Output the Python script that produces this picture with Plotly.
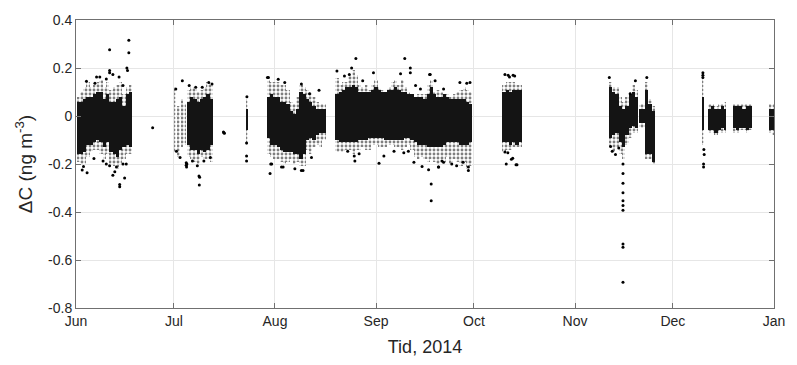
import pandas as pd
import plotly.graph_objects as go

# ---- data (days after 2014-06-01) ----
bin_day = ([d + 0.7 for d in range(17)] +            # June block
           [30.5, 31.5, 32.6, 33.4] +                  # early July sparse columns
           [34.5, 35.5, 36.5, 37.5, 38.5, 39.5, 40.5, 41.5] +
           [52.4] +
           [59, 60, 61, 62, 63, 64, 65, 66, 67, 68, 69, 70, 71, 72, 73, 74, 75, 76] +
           list(range(80, 122)) +
           [131.2, 132.2, 133.2, 134.2, 135.2, 136.2] +
           [163.9, 164.9, 165.9, 166.9, 167.9, 168.9, 169.9, 170.9, 171.9, 173.0, 174.0, 175.0, 176.0, 177.0] +
           [192.3] +
           [194.2, 195.2, 196.2, 197.2, 198.2, 199.0] +
           [201.8, 202.8, 203.8, 204.8, 205.8, 206.8] +
           [212.9, 213.6])
bin_width = ([1.0] * 17 + [0.6] * 4 + [1.0] * 8 + [0.7] + [1.0] * 18 + [1.0] * 42 +
             [1.0] * 6 + [1.0] * 14 + [0.7] + [1.0] * 5 + [0.6] + [1.0] * 6 + [0.8, 0.7])

core_high = ([0.06, 0.06, 0.07, 0.08, 0.08, 0.09, 0.10, 0.10, 0.07, 0.09, 0.06, 0.06, 0.07, 0.08, 0.04, 0.09, 0.10] +
             [None, None, None, None] +
             [0.06, 0.08, 0.07, 0.06, 0.07, 0.08, 0.09, 0.07] +
             [0.03] +
             [0.08, 0.09, 0.08, 0.08, 0.06, 0.06, 0.05, 0.02, 0.01, 0.03, 0.10, 0.09, 0.07, 0.06, 0.04, 0.03, 0.03, 0.03] +
             [0.09, 0.10, 0.11, 0.12, 0.12, 0.13, 0.12, 0.10, 0.10, 0.10, 0.10, 0.11, 0.12, 0.11, 0.10, 0.10, 0.11, 0.11,
              0.12, 0.11, 0.10, 0.10, 0.09, 0.09, 0.08, 0.08, 0.08, 0.07, 0.09, 0.12, 0.09, 0.08, 0.08, 0.09, 0.08, 0.07,
              0.07, 0.07, 0.07, 0.07, 0.06, 0.05] +
             [0.10, 0.11, 0.10, 0.11, 0.11, 0.11] +
             [0.12, 0.10, 0.09, 0.04, 0.03, 0.04, 0.09, 0.10, 0.08, 0.03, 0.03, 0.11, 0.05, 0.02] +
             [0.08] +
             [0.03, 0.04, 0.03, 0.03, 0.04, 0.03] +
             [0.04, 0.04, 0.04, 0.03, 0.04, 0.04] +
             [0.03, 0.03])
core_low = ([-0.16, -0.16, -0.15, -0.12, -0.12, -0.11, -0.10, -0.11, -0.13, -0.11, -0.15, -0.16, -0.17, -0.14, -0.13, -0.12, -0.13] +
            [None, None, None, None] +
            [-0.12, -0.14, -0.14, -0.16, -0.14, -0.15, -0.14, -0.12] +
            [-0.06] +
            [-0.09, -0.12, -0.12, -0.13, -0.14, -0.15, -0.15, -0.15, -0.16, -0.16, -0.18, -0.16, -0.10, -0.09, -0.10, -0.08, -0.07, -0.07] +
            [-0.10, -0.11, -0.11, -0.11, -0.11, -0.11, -0.11, -0.10, -0.10, -0.10, -0.09, -0.09, -0.09, -0.09, -0.09, -0.10,
             -0.10, -0.10, -0.10, -0.10, -0.10, -0.09, -0.09, -0.10, -0.11, -0.12, -0.12, -0.12, -0.13, -0.13, -0.13, -0.13,
             -0.13, -0.12, -0.11, -0.11, -0.11, -0.11, -0.12, -0.12, -0.12, -0.11] +
            [-0.11, -0.11, -0.12, -0.11, -0.12, -0.11] +
            [-0.09, -0.08, -0.07, -0.11, -0.13, -0.08, -0.05, -0.04, -0.05, -0.03, -0.03, -0.16, -0.16, -0.19] +
            [-0.06] +
            [-0.06, -0.06, -0.07, -0.06, -0.05, -0.06] +
            [-0.05, -0.06, -0.05, -0.05, -0.06, -0.05] +
            [-0.06, -0.06])
spread_high = ([0.08, 0.10, 0.12, 0.14, 0.12, 0.13, 0.14, 0.15, 0.12, 0.14, 0.11, 0.12, 0.13, 0.14, 0.09, 0.12, 0.13] +
               [0.12, 0.04, 0.07, 0.05] +
               [0.11, 0.12, 0.12, 0.10, 0.11, 0.12, 0.14, 0.13] +
               [0.07] +
               [0.15, 0.14, 0.14, 0.14, 0.13, 0.13, 0.11, 0.06, 0.05, 0.08, 0.13, 0.12, 0.11, 0.10, 0.08, 0.06, 0.05, 0.05] +
               [0.16, 0.13, 0.14, 0.14, 0.17, 0.19, 0.17, 0.13, 0.12, 0.13, 0.11, 0.13, 0.15, 0.12, 0.11, 0.10, 0.12, 0.14,
                0.15, 0.13, 0.15, 0.12, 0.10, 0.09, 0.08, 0.09, 0.09, 0.09, 0.13, 0.15, 0.10, 0.11, 0.10, 0.09, 0.09, 0.08,
                0.09, 0.10, 0.11, 0.12, 0.11, 0.10] +
               [0.13, 0.14, 0.14, 0.14, 0.13, 0.13] +
               [0.14, 0.12, 0.12, 0.08, 0.06, 0.08, 0.10, 0.13, 0.11, 0.05, 0.05, 0.14, 0.07, 0.04] +
               [0.17] +
               [0.05, 0.05, 0.04, 0.05, 0.05, 0.06] +
               [0.05, 0.05, 0.05, 0.05, 0.05, 0.05] +
               [0.05, 0.05])
spread_low = ([-0.19, -0.20, -0.20, -0.17, -0.15, -0.14, -0.14, -0.16, -0.18, -0.16, -0.20, -0.21, -0.22, -0.20, -0.18, -0.16, -0.16] +
              [-0.15, -0.17, -0.13, -0.12] +
              [-0.17, -0.18, -0.19, -0.20, -0.17, -0.18, -0.18, -0.19] +
              [-0.12] +
              [-0.16, -0.17, -0.18, -0.18, -0.19, -0.20, -0.19, -0.18, -0.20, -0.19, -0.21, -0.21, -0.14, -0.16, -0.13, -0.12, -0.13, -0.10] +
              [-0.15, -0.15, -0.15, -0.14, -0.14, -0.16, -0.14, -0.14, -0.13, -0.14, -0.14, -0.12, -0.12, -0.13, -0.13, -0.13,
               -0.12, -0.12, -0.13, -0.13, -0.14, -0.13, -0.12, -0.14, -0.17, -0.18, -0.17, -0.18, -0.19, -0.18, -0.19, -0.20,
               -0.18, -0.19, -0.17, -0.20, -0.18, -0.19, -0.21, -0.19, -0.22, -0.21] +
              [-0.15, -0.14, -0.14, -0.13, -0.13, -0.13] +
              [-0.13, -0.15, -0.13, -0.16, -0.18, -0.12, -0.09, -0.07, -0.07, -0.05, -0.05, -0.18, -0.18, -0.20] +
              [-0.12] +
              [-0.07, -0.07, -0.08, -0.07, -0.07, -0.07] +
              [-0.07, -0.07, -0.06, -0.06, -0.07, -0.06] +
              [-0.07, -0.08])

# isolated points
point_day = [10.3, 16.2, 16.2, 15.6, 15.8, 10.3, 10.3, 13.4, 13.4, 14.9, 11.9, 3.4, 1.9, 2.3, 7.3, 6.3, 9.3, 3.2, 23.5,
             13.2, 11.3, 14.4, 5.8, 8.3, 9.3, 10.3, 12.4, 11.3, 14.4, 15.4, 5.5,
             32.6, 33.8, 33.8, 33.9, 34.0, 37.7, 37.9, 37.8, 45.2, 45.5, 45.35,
             34.7, 36.7, 38.7, 40.7, 41.7, 35.7, 37.2, 39.2, 41.2, 30.6, 30.8, 31.9,
             52.4, 52.3, 52.3, 52.3,
             59.5, 59.7, 63.5, 69.6, 74.5, 58.7,
             59.0, 62.0, 64.0, 69.1, 71.6, 60.0, 63.0, 67.1, 69.1, 72.2,
             85.8, 84.5, 80.0, 85.5, 92.9, 100.8, 102.5, 102.5, 108.9, 108.9,
             83.3, 85.3, 86.8, 94.4, 97.5, 100.5, 101.9, 103.6, 106.1, 108.1, 111.2, 112.2,
             82.3, 83.8, 87.9, 91.2, 99.5, 104.1, 105.6, 108.4, 110.1,
             111.1, 112.7, 115.2, 116.7, 118.7, 120.3, 120.3, 117.7, 119.8, 120.8, 108.6, 112.7,
             131.5, 132.5, 134.0, 131.9, 134.9, 131.5, 133.5, 132.9, 134.5, 132.4, 133.9, 135.2,
             163.5, 167.7, 167.7, 167.7, 167.7, 167.7, 167.7, 167.7, 167.7, 167.7, 167.7, 171.5, 175.0,
             163.9, 164.4, 165.4, 166.4, 169.9,
             192.2, 192.2, 192.2, 192.4, 192.4, 192.5, 192.6]
point_val = [0.276, 0.316, 0.264, 0.20, 0.19, 0.19, 0.18, -0.285, -0.295, -0.258, -0.232, -0.236, -0.225, -0.21, 0.163, 0.163, 0.154, 0.145, -0.049,
             0.163, 0.173, 0.127, 0.136, -0.187, -0.20, -0.207, -0.213, -0.247, -0.20, -0.20, -0.177,
             0.147, -0.195, -0.205, -0.213, -0.20, -0.25, -0.255, -0.287, -0.067, -0.072, -0.07,
             0.127, 0.12, 0.12, 0.14, 0.133, -0.187, -0.207, -0.187, -0.173, 0.113, -0.147, -0.173,
             0.08, -0.113, -0.167, -0.187,
             -0.24, -0.20, -0.213, -0.227, 0.107, 0.16,
             0.16, 0.153, 0.14, 0.133, 0.093, -0.20, -0.213, -0.22, -0.227, -0.173,
             0.24, 0.20, 0.187, -0.187, -0.197, 0.24, 0.20, 0.18, -0.283, -0.353,
             -0.147, -0.167, -0.157, -0.167, -0.147, -0.153, -0.147, -0.193, -0.21, -0.224, -0.213, -0.187,
             0.167, 0.173, 0.147, 0.18, 0.176, 0.127, 0.113, 0.173, 0.147,
             -0.213, -0.193, -0.20, -0.207, -0.193, -0.213, -0.227, 0.14, 0.136, 0.14, 0.173, 0.113,
             0.173, 0.17, 0.17, -0.20, -0.203, -0.15, -0.18, 0.163, 0.167, -0.153, -0.176, -0.203,
             0.16, -0.20, -0.24, -0.28, -0.32, -0.353, -0.373, -0.393, -0.533, -0.547, -0.693, 0.147, 0.16,
             -0.127, -0.147, -0.16, -0.133, 0.093,
             0.18, 0.17, 0.16, -0.20, -0.213, -0.14, -0.16]

month_ticks = ["2014-06-01", "2014-07-01", "2014-08-01", "2014-09-01", "2014-10-01", "2014-11-01", "2014-12-01", "2015-01-01"]
month_labels = ["Jun", "Jul", "Aug", "Sep", "Oct", "Nov", "Dec", "Jan"]
y_ticks = [0.4, 0.2, 0.0, -0.2, -0.4, -0.6, -0.8]
y_labels = ["0.4", "0.2", "0", "-0.2", "-0.4", "-0.6", "-0.8"]

# ---- build ----
start = pd.Timestamp("2014-06-01")
to_date = lambda days: [start + pd.Timedelta(days=d) for d in days]
ms_day = 86400000.0

xb = to_date(bin_day)
wb = [w * ms_day for w in bin_width]

fig = go.Figure()
fig.add_trace(go.Bar(
    x=xb, base=spread_low, y=[h - l for h, l in zip(spread_high, spread_low)], width=wb,
    marker=dict(color="white", line=dict(width=0),
                pattern=dict(shape=".", fgcolor="black", bgcolor="white", size=4, solidity=0.4)),
    hoverinfo="skip", showlegend=False))
ck = [i for i, v in enumerate(core_high) if v is not None]
fig.add_trace(go.Bar(
    x=[xb[i] for i in ck], base=[core_low[i] for i in ck],
    y=[core_high[i] - core_low[i] for i in ck], width=[wb[i] for i in ck],
    marker=dict(color="#141414", line=dict(width=0)),
    hoverinfo="skip", showlegend=False))
fig.add_trace(go.Scatter(
    x=to_date(point_day), y=point_val, mode="markers",
    marker=dict(symbol="circle", size=3, color="black", line=dict(width=0)),
    showlegend=False))

axis_font = dict(family="Liberation Sans, Arial, sans-serif", size=14, color="#262626")
fig.update_layout(
    width=797, height=365, margin=dict(l=76, r=17, t=13, b=51),
    plot_bgcolor="white", paper_bgcolor="white", barmode="overlay", bargap=0,
    font=axis_font,
    xaxis=dict(type="date", range=["2014-06-01", "2015-01-01"], tickvals=month_ticks, ticktext=month_labels,
               showgrid=True, gridcolor="#e6e6e6", gridwidth=1, zeroline=False,
               showline=True, linecolor="#707070", linewidth=1, mirror="ticks",
               ticks="inside", ticklen=5, tickcolor="#707070", tickfont=axis_font,
               title=dict(text="Tid, 2014", font=dict(family="Liberation Sans, Arial, sans-serif", size=18, color="#262626"),
                          standoff=12)),
    yaxis=dict(range=[-0.8, 0.4], tickvals=y_ticks, ticktext=y_labels,
               showgrid=True, gridcolor="#e6e6e6", gridwidth=1, zeroline=False,
               showline=True, linecolor="#707070", linewidth=1, mirror="ticks",
               ticks="inside", ticklen=5, tickcolor="#707070", tickfont=axis_font,
               title=dict(text="ΔC (ng m<sup>-3</sup>)", font=dict(family="Liberation Sans, Arial, sans-serif", size=19, color="#262626"),
                          standoff=10)),
)
fig.write_html("out.html")
